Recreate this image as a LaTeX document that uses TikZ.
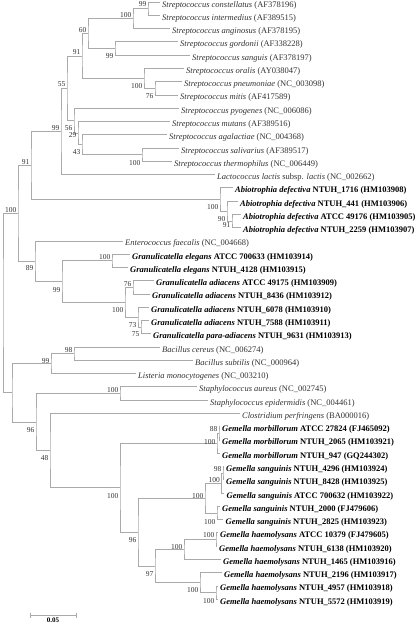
\documentclass[tikz,border=0pt]{standalone}
\usepackage{fontspec}
\setmainfont{Liberation Serif}
\definecolor{treegray}{RGB}{170,170,170}
\definecolor{labgray}{RGB}{50,50,50}
\begin{document}
\begin{tikzpicture}[x=1pt,y=-1pt,
  branch/.style={draw=treegray, line width=0.8pt},
  leaf/.style={anchor=west, inner xsep=2.5pt, inner ysep=0pt, text height=10pt, text depth=0pt, font=\fontsize{8.5}{10}\selectfont, text=labgray},
  bleaf/.style={leaf, font=\fontsize{8.5}{10}\selectfont\bfseries, text=black},
  bs/.style={anchor=east, inner sep=0pt, font=\fontsize{7.5}{9}\selectfont, text=labgray}]
\useasboundingbox (0,0) rectangle (416,624);
% leaves
\node[leaf] (l0) at (159.5,2) {\textit{Streptococcus constellatus} (AF378196)};
\node[leaf] (l1) at (159.5,15.3) {\textit{Streptococcus intermedius} (AF389515)};
\node[leaf] (l2) at (169.5,28.5) {\textit{Streptococcus anginosus} (AF378195)};
\node[leaf] (l3) at (177.5,41.8) {\textit{Streptococcus gordonii} (AF338228)};
\node[leaf] (l4) at (189.5,55.1) {\textit{Streptococcus sanguis} (AF378197)};
\node[leaf] (l5) at (183.5,68.4) {\textit{Streptococcus oralis} (AY038047)};
\node[leaf] (l6) at (181.5,81.6) {\textit{Streptococcus pneumoniae} (NC\_003098)};
\node[leaf] (l7) at (177.5,94.9) {\textit{Streptococcus mitis} (AF417589)};
\node[leaf] (l8) at (178.5,108.2) {\textit{Streptococcus pyogenes} (NC\_006086)};
\node[leaf] (l9) at (169.5,121.4) {\textit{Streptococcus mutans} (AF389516)};
\node[leaf] (l10) at (166.5,134.7) {\textit{Streptococcus agalactiae} (NC\_004368)};
\node[leaf] (l11) at (178.5,148.0) {\textit{Streptococcus salivarius} (AF389517)};
\node[leaf] (l12) at (171.5,161.2) {\textit{Streptococcus thermophilus} (NC\_006449)};
\node[leaf] (l13) at (214.5,174.5) {\textit{Lactococcus lactis} subsp. \textit{lactis} (NC\_002662)};
\node[bleaf] (l14) at (232.5,187.8) {\textit{Abiotrophia defectiva} NTUH\_1716 (HM103908)};
\node[bleaf] (l15) at (237.5,201.1) {\textit{Abiotrophia defectiva} NTUH\_441 (HM103906)};
\node[bleaf] (l16) at (240.5,214.3) {\textit{Abiotrophia defectiva} ATCC 49176 (HM103905)};
\node[bleaf] (l17) at (240.5,227.6) {\textit{Abiotrophia defectiva} NTUH\_2259 (HM103907)};
\node[leaf] (l18) at (122.5,240.9) {\textit{Enterococcus faecalis} (NC\_004668)};
\node[bleaf] (l19) at (129.5,254.1) {\textit{Granulicatella elegans} ATCC 700633 (HM103914)};
\node[bleaf] (l20) at (127.5,267.4) {\textit{Granulicatella elegans} NTUH\_4128 (HM103915)};
\node[bleaf] (l21) at (153.5,280.7) {\textit{Granulicatella adiacens} ATCC 49175 (HM103909)};
\node[bleaf] (l22) at (149.5,293.9) {\textit{Granulicatella adiacens} NTUH\_8436 (HM103912)};
\node[bleaf] (l23) at (148.5,307.2) {\textit{Granulicatella adiacens} NTUH\_6078 (HM103910)};
\node[bleaf] (l24) at (148.5,320.5) {\textit{Granulicatella adiacens} NTUH\_7588 (HM103911)};
\node[bleaf] (l25) at (150.5,333.8) {\textit{Granulicatella para-adiacens} NTUH\_9631 (HM103913)};
\node[leaf] (l26) at (159.5,347.0) {\textit{Bacillus cereus} (NC\_006274)};
\node[leaf] (l27) at (192.5,360.3) {\textit{Bacillus subtilis} (NC\_000964)};
\node[leaf] (l28) at (135.5,373.6) {\textit{Listeria monocytogenes} (NC\_003210)};
\node[leaf] (l29) at (196.5,386.8) {\textit{Staphylococcus aureus} (NC\_002745)};
\node[leaf] (l30) at (207.5,400.1) {\textit{Staphylococcus epidermidis} (NC\_004461)};
\node[leaf] (l31) at (239.5,413.4) {\textit{Clostridium perfringens} (BA000016)};
\node[bleaf] (l32) at (219.5,426.6) {\textit{Gemella morbillorum} ATCC 27824 (FJ465092)};
\node[bleaf] (l33) at (219.5,439.9) {\textit{Gemella morbillorum} NTUH\_2065 (HM103921)};
\node[bleaf] (l34) at (219.5,453.2) {\textit{Gemella morbillorum} NTUH\_947 (GQ244302)};
\node[bleaf] (l35) at (223.5,466.5) {\textit{Gemella sanguinis} NTUH\_4296 (HM103924)};
\node[bleaf] (l36) at (223.5,479.7) {\textit{Gemella sanguinis} NTUH\_8428 (HM103925)};
\node[bleaf] (l37) at (224,493.0) {\textit{Gemella sanguinis} ATCC 700632 (HM103922)};
\node[bleaf] (l38) at (219.5,506.3) {\textit{Gemella sanguinis} NTUH\_2000 (FJ479606)};
\node[bleaf] (l39) at (223,519.5) {\textit{Gemella sanguinis} NTUH\_2825 (HM103923)};
\node[bleaf] (l40) at (217.5,532.8) {\textit{Gemella haemolysans} ATCC 10379 (FJ479605)};
\node[bleaf] (l41) at (216.5,546.1) {\textit{Gemella haemolysans} NTUH\_6138 (HM103920)};
\node[bleaf] (l42) at (220.5,559.3) {\textit{Gemella haemolysans} NTUH\_1465 (HM103916)};
\node[bleaf] (l43) at (221.5,572.6) {\textit{Gemella haemolysans} NTUH\_2196 (HM103917)};
\node[bleaf] (l44) at (217.5,585.9) {\textit{Gemella haemolysans} NTUH\_4957 (HM103918)};
\node[bleaf] (l45) at (217.5,599.2) {\textit{Gemella haemolysans} NTUH\_5572 (HM103919)};
% internal nodes
\coordinate (nci) at (148,8.65);
\coordinate (ncia) at (133,18.6);
\coordinate (ngs) at (115,48.45);
\coordinate (n60) at (88,33.5);
\coordinate (npm) at (155,88.25);
\coordinate (nopm) at (144,78.3);
\coordinate (n91a) at (82,55.9);
\coordinate (nst) at (142,154.6);
\coordinate (n43) at (82,144.65);
\coordinate (n29) at (78,133.0);
\coordinate (n56) at (74,120.6);
\coordinate (n55) at (67,88.25);
\coordinate (n99a) at (61,131.4);
\coordinate (nc) at (232,220.95);
\coordinate (nb) at (227,211.0);
\coordinate (na) at (220,199.4);
\coordinate (n91b) at (31,165.4);
\coordinate (nel) at (112,260.75);
\coordinate (n76) at (133,287.3);
\coordinate (n75) at (141,327.1);
\coordinate (n73) at (138,317.2);
\coordinate (nad) at (125,302.25);
\coordinate (n99b) at (62,281.5);
\coordinate (n89) at (35,261.2);
\coordinate (nt) at (18,213.3);
\coordinate (n98) at (74,353.65);
\coordinate (n99c) at (51,363.6);
\coordinate (nsta) at (120,393.45);
\coordinate (n88) at (219,433.25);
\coordinate (nmor) at (217,443.2);
\coordinate (ns1) at (223,473.1);
\coordinate (ns2) at (221.5,483.05);
\coordinate (ns4) at (217,512.9);
\coordinate (ns3) at (205,498.0);
\coordinate (nh1) at (216,539.45);
\coordinate (nh2) at (184,549.4);
\coordinate (nh4) at (216,592.55);
\coordinate (nh3) at (200,582.6);
\coordinate (n97) at (155,566.0);
\coordinate (n96b) at (138,532.0);
\coordinate (n100g) at (120,487.6);
\coordinate (n48) at (50,450.5);
\coordinate (n96a) at (36,422.0);
\coordinate (nbo) at (12,392.8);
\coordinate (nr) at (3,303.05);
% branches
\draw[branch] (l0.west) -| (nci) |- (l1.west);
\draw[branch] (nci) -| (ncia) |- (l2.west);
\draw[branch] (l3.west) -| (ngs) |- (l4.west);
\draw[branch] (ncia) -| (n60) |- (ngs);
\draw[branch] (l6.west) -| (npm) |- (l7.west);
\draw[branch] (l5.west) -| (nopm) |- (npm);
\draw[branch] (n60) -| (n91a) |- (nopm);
\draw[branch] (l11.west) -| (nst) |- (l12.west);
\draw[branch] (l10.west) -| (n43) |- (nst);
\draw[branch] (l9.west) -| (n29) |- (n43);
\draw[branch] (l8.west) -| (n56) |- (n29);
\draw[branch] (n91a) -| (n55) |- (n56);
\draw[branch] (n55) -| (n99a) |- (l13.west);
\draw[branch] (l16.west) -| (nc) |- (l17.west);
\draw[branch] (l15.west) -| (nb) |- (nc);
\draw[branch] (l14.west) -| (na) |- (nb);
\draw[branch] (n99a) -| (n91b) |- (na);
\draw[branch] (l19.west) -| (nel) |- (l20.west);
\draw[branch] (l21.west) -| (n76) |- (l22.west);
\draw[branch] (l24.west) -| (n75) |- (l25.west);
\draw[branch] (l23.west) -| (n73) |- (n75);
\draw[branch] (n76) -| (nad) |- (n73);
\draw[branch] (nel) -| (n99b) |- (nad);
\draw[branch] (l18.west) -| (n89) |- (n99b);
\draw[branch] (n91b) -| (nt) |- (n89);
\draw[branch] (l26.west) -| (n98) |- (l27.west);
\draw[branch] (n98) -| (n99c) |- (l28.west);
\draw[branch] (l29.west) -| (nsta) |- (l30.west);
\draw[branch] (l32.west) -| (n88) |- (l33.west);
\draw[branch] (n88) -| (nmor) |- (l34.west);
\draw[branch] (l35.west) -| (ns1) |- (l36.west);
\draw[branch] (ns1) -| (ns2) |- (l37.west);
\draw[branch] (l38.west) -| (ns4) |- (l39.west);
\draw[branch] (ns2) -| (ns3) |- (ns4);
\draw[branch] (l40.west) -| (nh1) |- (l41.west);
\draw[branch] (nh1) -| (nh2) |- (l42.west);
\draw[branch] (l44.west) -| (nh4) |- (l45.west);
\draw[branch] (l43.west) -| (nh3) |- (nh4);
\draw[branch] (nh2) -| (n97) |- (nh3);
\draw[branch] (ns3) -| (n96b) |- (n97);
\draw[branch] (nmor) -| (n100g) |- (n96b);
\draw[branch] (l31.west) -| (n48) |- (n100g);
\draw[branch] (nsta) -| (n96a) |- (n48);
\draw[branch] (n99c) -| (nbo) |- (n96a);
\draw[branch] (nt) -| (nr) |- (nbo);
% bootstrap values
\node[bs] (b1) at (146.5,4) {99};
\node[bs] (b2) at (131.5,15) {100};
\node[bs] (b3) at (113.5,56) {99};
\node[bs] (b4) at (86.5,30) {60};
\node[bs] (b5) at (153.5,96) {76};
\node[bs] (b6) at (142.5,86) {100};
\node[bs] (b7) at (80.5,52) {91};
\node[bs] (b8) at (140.5,163) {100};
\node[bs] (b9) at (80.5,152) {43};
\node[bs] (b10) at (76.5,135) {29};
\node[bs] (b11) at (72.5,128) {56};
\node[bs] (b12) at (65.5,84) {55};
\node[bs] (b13) at (59.5,128) {99};
\node[bs] (b14) at (230.5,225) {91};
\node[bs] (b15) at (225.5,219) {90};
\node[bs] (b16) at (218.5,207) {100};
\node[bs] (b17) at (29.5,162) {91};
\node[bs] (b18) at (110.5,257) {100};
\node[bs] (b19) at (131.5,284) {76};
\node[bs] (b20) at (139.5,334) {75};
\node[bs] (b21) at (136.5,325) {73};
\node[bs] (b22) at (123.5,310) {100};
\node[bs] (b23) at (60.5,290) {99};
\node[bs] (b24) at (33.5,268) {89};
\node[bs] (b25) at (16.5,210) {100};
\node[bs] (b26) at (72.5,350) {98};
\node[bs] (b27) at (49.5,361) {99};
\node[bs] (b28) at (118.5,390) {100};
\node[bs] (b29) at (217.5,429) {88};
\node[bs] (b30) at (215.5,442) {100};
\node[bs] (b31) at (221.5,469) {98};
\node[bs] (b32) at (220,480) {100};
\node[bs] (b33) at (215.5,522) {100};
\node[bs] (b34) at (203.5,496) {100};
\node[bs] (b35) at (214.5,535) {100};
\node[bs] (b36) at (182.5,547) {100};
\node[bs] (b37) at (214.5,601) {100};
\node[bs] (b38) at (198.5,590) {100};
\node[bs] (b39) at (153.5,574) {97};
\node[bs] (b40) at (136.5,540) {96};
\node[bs] (b41) at (118.5,496) {100};
\node[bs] (b42) at (48.5,458) {48};
\node[bs] (b43) at (34.5,430) {96};
% scale bar
\coordinate (sbl) at (30,615);
\coordinate (sbr) at (76,615);
\draw[branch] (sbl) -- (sbr);
\draw[branch] ([yshift=2.5pt]sbl) -- ([yshift=-2.5pt]sbl);
\draw[branch] ([yshift=2.5pt]sbr) -- ([yshift=-2.5pt]sbr);
\node[inner sep=0pt, font=\fontsize{7}{8}\selectfont\bfseries] (sbt) at (53,620.5) {0.05};
\end{tikzpicture}
\end{document}
